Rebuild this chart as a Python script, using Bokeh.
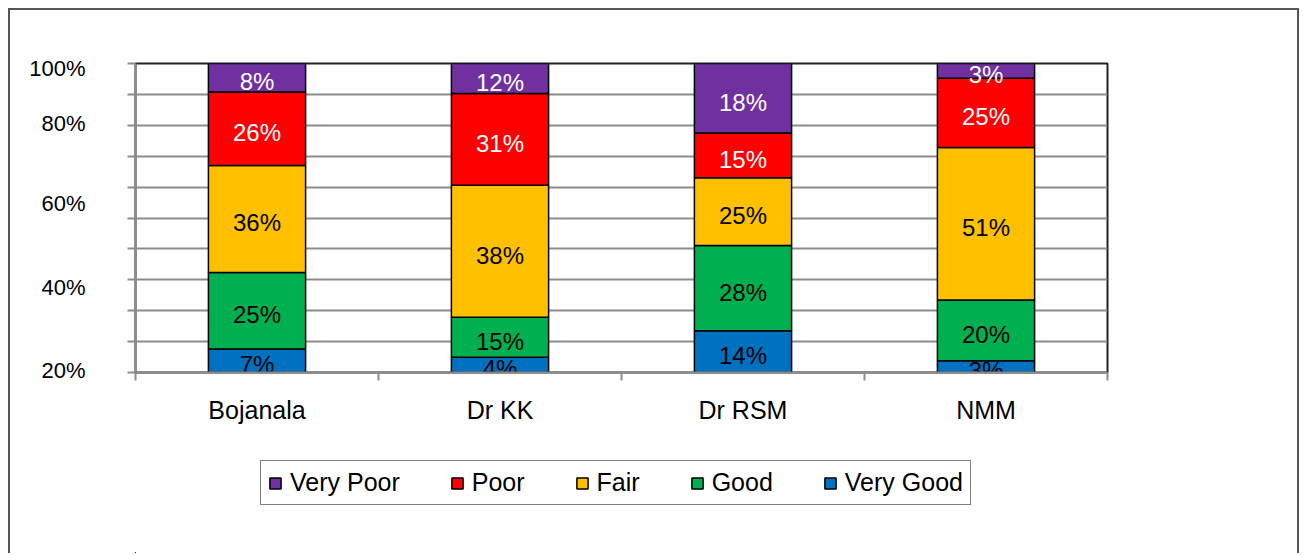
import numpy as np
from bokeh.plotting import figure
from bokeh.layouts import column
from bokeh.models import ColumnDataSource, FixedTicker, Range1d, Legend, LegendItem
from bokeh.core.properties import value
from bokeh.embed import file_html
from bokeh.resources import INLINE

# ---- data ----
categories = ["Bojanala", "Dr KK", "Dr RSM", "NMM"]
series_names = ["Very Good", "Good", "Fair", "Poor", "Very Poor"]
# segment shares (percent of each bar)
very_good = [7.6, 4.9, 13.5, 3.8]
good = [24.8, 13.0, 27.6, 19.7]
fair = [34.6, 42.7, 21.9, 49.3]
poor = [23.8, 29.7, 14.5, 22.4]
very_poor = [9.2, 9.7, 22.5, 4.9]
# data labels as printed on the chart
lab_very_good = ["7%", "4%", "14%", "3%"]
lab_good = ["25%", "15%", "28%", "20%"]
lab_fair = ["36%", "38%", "25%", "51%"]
lab_poor = ["26%", "31%", "15%", "25%"]
lab_very_poor = ["8%", "12%", "18%", "3%"]
y_tick_labels = ["20%", "40%", "60%", "80%", "100%"]

# ---- styling ----
colors = ["#0070C0", "#00B050", "#FFC000", "#FF0000", "#7030A0"]
text_colors = ["black", "black", "black", "white", "white"]
y_tick_pos = [0.6, 27.6, 54.6, 80.5, 98.3]
FONT = "Liberation Sans"
GRID = "#8c8c8c"

values = [very_good, good, fair, poor, very_poor]
labels = [lab_very_good, lab_good, lab_fair, lab_poor, lab_very_poor]

p = figure(width=1287, height=425, output_backend="svg", toolbar_location=None,
           x_range=Range1d(0, 4), y_range=Range1d(0, 100),
           min_border_left=125, min_border_right=190, min_border_top=53, min_border_bottom=63)
p.background_fill_color = "white"
p.border_fill_color = "white"
p.outline_line_color = "#222222"
p.outline_line_width = 2

xpos = np.arange(len(categories)) + 0.5
bottom = np.zeros(len(categories))
sources = {}
for name, vals, labs, col, tcol in zip(series_names, values, labels, colors, text_colors):
    vals = np.array(vals, dtype=float)
    top = bottom + vals
    src = ColumnDataSource(dict(x=xpos, bottom=bottom, top=top, mid=bottom + vals / 2, lab=labs))
    sources[name] = src
    p.vbar(x="x", bottom="bottom", top="top", width=0.4, source=src,
           fill_color=col, line_color="black", line_width=1.5)
    p.text(x="x", y="mid", text="lab", source=src, text_align="center", text_baseline="middle",
           y_offset=4, text_font=value(FONT), text_font_size="24px", text_color=tcol)
    bottom = top

# grid
p.xgrid.visible = False
p.ygrid.ticker = FixedTicker(ticks=list(range(10, 100, 10)))
p.ygrid.grid_line_color = GRID
p.ygrid.grid_line_width = 2

# y axis
ya = p.yaxis[0]
ya.ticker = FixedTicker(ticks=y_tick_pos, minor_ticks=list(range(0, 101, 10)))
ya.major_label_overrides = {t: l for t, l in zip(y_tick_pos, y_tick_labels)}
ya.major_tick_line_color = None
ya.major_tick_out = 0
ya.major_tick_in = 0
ya.minor_tick_line_color = GRID
ya.minor_tick_line_width = 2
ya.minor_tick_out = 8
ya.minor_tick_in = 0
ya.axis_line_color = GRID
ya.axis_line_width = 2
ya.major_label_standoff = 42
ya.major_label_text_font = FONT
ya.major_label_text_font_size = "22px"
ya.major_label_text_color = "black"

# x axis
xa = p.xaxis[0]
xa.ticker = FixedTicker(ticks=list(xpos), minor_ticks=list(range(0, len(categories) + 1)))
xa.major_label_overrides = {float(x): c for x, c in zip(xpos, categories)}
xa.major_tick_line_color = None
xa.major_tick_out = 0
xa.major_tick_in = 0
xa.minor_tick_line_color = GRID
xa.minor_tick_line_width = 2
xa.minor_tick_out = 8
xa.minor_tick_in = 0
xa.axis_line_color = GRID
xa.axis_line_width = 2
xa.major_label_standoff = 15
xa.major_label_text_font = FONT
xa.major_label_text_font_size = "25px"
xa.major_label_text_color = "black"

# legend in a separate strip below the chart (its bars lie far outside its ranges)
p2 = figure(width=1287, height=118, output_backend="svg", toolbar_location=None,
            x_range=Range1d(1000, 1001), y_range=Range1d(1000, 1001),
            min_border_left=0, min_border_right=0, min_border_top=0, min_border_bottom=0)
p2.axis.visible = False
p2.grid.visible = False
p2.outline_line_color = None
p2.background_fill_color = "white"
p2.border_fill_color = "white"
legend_renderers = {}
for name, col in zip(series_names, colors):
    legend_renderers[name] = p2.vbar(x="x", bottom="bottom", top="top", width=0.4, source=sources[name],
                                     fill_color=col, line_color="black", line_width=1.5)
items = [LegendItem(label=n, renderers=[legend_renderers[n]], index=0) for n in reversed(series_names)]
legend = Legend(items=items, orientation="horizontal", location=(125, 48),
                glyph_width=14, glyph_height=14, label_standoff=8, spacing=50, padding=7,
                margin=0,
                label_text_font=FONT, label_text_font_size="25px", label_text_color="black",
                border_line_color="black", border_line_width=1.5, background_fill_alpha=1)
p2.add_layout(legend, "center")

layout = column(p, p2, spacing=0)
layout.styles = {"margin-left": "8px", "margin-top": "8px",
                 "border-top": "2px solid #555555", "border-left": "2px solid #555555",
                 "border-right": "2px solid #555555"}

open("out.html", "w").write(file_html(layout, INLINE))
